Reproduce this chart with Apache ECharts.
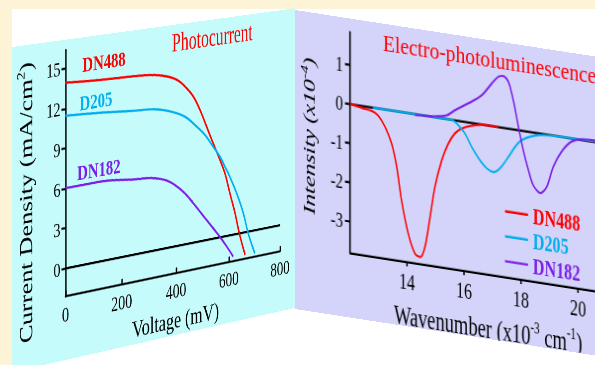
<!DOCTYPE html>
<html><head><meta charset="utf-8">
<script src="https://cdn.jsdelivr.net/npm/echarts@6/dist/echarts.min.js"></script>
<style>
html,body{margin:0;padding:0;width:595px;height:365px;overflow:hidden;background:#fdf3d7;}
#paper{position:absolute;left:12px;top:9px;width:583px;height:356px;background:#ffffff;}
#left,#right{position:absolute;left:0;top:0;transform-origin:0 0;}
#left{width:298px;height:221px;}
#right{width:330px;height:206px;}
</style></head><body>
<div id="paper"></div>
<div id="left"></div>
<div id="right"></div>
<script>
// ---------- Photocurrent (J-V) data ----------
const pcZeroV = [0, 800];
const pcZeroJ = [0, 0];
const pcV_DN488 = [0, 122, 248, 322, 371, 408, 440, 465, 490, 515, 540, 566, 585, 604, 624, 640, 663];
const pcJ_DN488 = [13.94, 13.76, 13.66, 13.51, 13.22, 12.8, 12.1, 11.37, 10.25, 8.86, 7.47, 6.07, 4.95, 3.31, 1.65, 0.05, -1.8];
const pcV_D205 = [0, 122, 248, 322, 384, 433, 471, 509, 540, 566, 585, 598, 630, 656, 675, 701];
const pcJ_D205 = [11.47, 11.28, 11.01, 10.87, 10.47, 9.92, 9.14, 8.23, 7.2, 6.33, 5.47, 4.9, 3.21, 1.53, -0.14, -1.83];
const pcV_DN182 = [0, 122, 248, 310, 359, 396, 433, 465, 515, 560, 592, 617];
const pcJ_DN182 = [6.02, 6.05, 5.75, 5.62, 5.28, 4.75, 3.97, 3.06, 1.56, 0.21, -0.84, -1.74];
const pcVoltTicks = [0, 200, 400, 600, 800];
const pcCurrTicks = [0, 3, 6, 9, 12, 15];

// ---------- Electro-photoluminescence data ----------
const eplZeroW = [12, 21];
const eplZeroI = [0, 0];
const eplW_DN488 = [12.0, 12.3, 12.5, 12.75, 12.98, 13.23, 13.46, 13.64, 13.81, 14.05, 14.28, 14.46, 14.63, 14.81, 14.98, 15.22, 15.45, 15.68, 15.92, 16.39, 16.85, 17.2];
const eplI_DN488 = [0, -0.03, -0.06, -0.08, -0.17, -0.44, -0.84, -1.42, -2.26, -3.10, -3.57, -3.64, -3.36, -2.57, -1.78, -1.07, -0.62, -0.33, -0.18, -0.04, 0.01, 0.0];
const eplW_D205 = [12.8, 15.57, 15.8, 16.04, 16.27, 16.56, 16.8, 17.03, 17.26, 17.56, 17.79, 18.02, 18.37, 18.72, 19.42, 21.0];
const eplI_D205 = [0, 0, -0.11, -0.30, -0.61, -0.92, -1.10, -1.17, -1.05, -0.72, -0.44, -0.24, -0.10, -0.03, 0.0, 0.03];
const eplW_DN182 = [14.28, 15.0, 15.4, 15.68, 16.15, 16.62, 16.97, 17.2, 17.38, 17.56, 17.73, 17.91, 18.08, 18.26, 18.43, 18.67, 18.9, 19.13, 19.42, 19.77, 20.13, 21.0];
const eplI_DN182 = [-0.02, 0.03, 0.1, 0.26, 0.49, 0.75, 1.09, 1.29, 1.33, 1.2, 0.75, 0.09, -0.49, -0.98, -1.35, -1.52, -1.34, -0.8, -0.38, -0.08, 0.02, 0.05];
const eplWaveTicks = [14, 16, 18, 20];
const eplIntTicks = [-3, -2, -1, 0, 1];

const seriesNames = ['DN488', 'D205', 'DN182'];
const seriesColors = ['#ff0000', '#00aeef', '#7a1fe6'];

// ---------- helpers ----------
const zip = (xs, ys) => xs.map((x, i) => [x, ys[i]]);
const serif = "'Liberation Serif','Times New Roman',serif";

function homography(src, dst) {
  const M = [], v = [];
  for (let i = 0; i < 4; i++) {
    const [x, y] = src[i], [X, Y] = dst[i];
    M.push([x, y, 1, 0, 0, 0, -x * X, -y * X]); v.push(X);
    M.push([0, 0, 0, x, y, 1, -x * Y, -y * Y]); v.push(Y);
  }
  for (let c = 0; c < 8; c++) {
    let p = c;
    for (let r = c + 1; r < 8; r++) if (Math.abs(M[r][c]) > Math.abs(M[p][c])) p = r;
    [M[c], M[p]] = [M[p], M[c]]; [v[c], v[p]] = [v[p], v[c]];
    for (let r = 0; r < 8; r++) {
      if (r === c) continue;
      const f = M[r][c] / M[c][c];
      for (let k = c; k < 8; k++) M[r][k] -= f * M[c][k];
      v[r] -= f * v[c];
    }
  }
  const h = v.map((val, i) => val / M[i][i]);
  return `matrix3d(${h[0]},${h[3]},0,${h[6]},${h[1]},${h[4]},0,${h[7]},0,0,1,0,${h[2]},${h[5]},0,1)`;
}

// ---------- panel placement (perspective of the figure) ----------
const LG = {left: 52.6, top: 7.1, width: 228, height: 170, outerBoundsMode: 'none'};
const leftEl = document.getElementById('left');
leftEl.style.transform = homography(
  [[LG.left, LG.top], [LG.left, LG.top + LG.height], [LG.left + LG.width, LG.top + LG.height], [LG.left + LG.width, LG.top]],
  [[65.5, 50], [65.5, 296.4], [280, 251.5], [280, 20]]
);
const rightEl = document.getElementById('right');
rightEl.style.transform = 'matrix(1,0.155,0,1.45,295,10)';

const axisBlack = {color: '#000', width: 1.5};

// ---------- left chart ----------
const leftChart = echarts.init(leftEl, null, {renderer: 'svg'});
leftChart.setOption({
  animation: false,
  backgroundColor: '#c6fbfb',
  grid: LG,
  xAxis: {
    type: 'value', min: pcVoltTicks[0], max: pcVoltTicks[pcVoltTicks.length - 1], interval: 200,
    axisLine: {onZero: false, lineStyle: axisBlack},
    axisTick: {inside: true, length: 4, lineStyle: axisBlack},
    axisLabel: {color: '#000', fontFamily: serif, fontSize: 14.5, margin: 5},
    splitLine: {show: false},
    name: 'Voltage (mV)', nameLocation: 'middle', nameGap: 21,
    nameTextStyle: {color: '#000', fontFamily: serif, fontSize: 17}
  },
  yAxis: {
    type: 'value', min: -2.1, max: 16.4,
    axisLine: {show: true, onZero: false, lineStyle: axisBlack},
    axisTick: {show: true, length: 4, customValues: pcCurrTicks, lineStyle: axisBlack},
    axisLabel: {customValues: pcCurrTicks, color: '#000', fontFamily: serif, fontSize: 14, margin: 5},
    splitLine: {show: false},
    name: 'Current Density (mA/cm{s|2})', nameLocation: 'middle', nameGap: 24,
    nameTextStyle: {
      color: '#000', fontFamily: serif, fontSize: 18, padding: [0, 31, 0, 0],
      rich: {s: {fontSize: 11, fontFamily: serif, color: '#000', padding: [0, 0, 10, 0]}}
    }
  },
  graphic: [
    {type: 'text', x: 206, y: 12.4, scaleY: 1.1, style: {text: 'Photocurrent', fill: '#ff0000', fontFamily: serif, fontSize: 17, align: 'center', verticalAlign: 'middle'}},
    {type: 'text', x: 91.6, y: 18.9, style: {text: seriesNames[0], fill: seriesColors[0], fontFamily: serif, fontWeight: 'bold', fontSize: 15, align: 'center', verticalAlign: 'middle'}},
    {type: 'text', x: 83.3, y: 45.6, style: {text: seriesNames[1], fill: seriesColors[1], fontFamily: serif, fontWeight: 'bold', fontSize: 15, align: 'center', verticalAlign: 'middle'}},
    {type: 'text', x: 86.3, y: 93.2, style: {text: seriesNames[2], fill: seriesColors[2], fontFamily: serif, fontWeight: 'bold', fontSize: 15, align: 'center', verticalAlign: 'middle'}}
  ],
  series: [
    {type: 'line', name: 'zero', data: zip(pcZeroV, pcZeroJ), symbol: 'none', lineStyle: {color: '#000', width: 1.6}, silent: true},
    {type: 'line', name: seriesNames[0], data: zip(pcV_DN488, pcJ_DN488), symbol: 'none', smooth: 0.4, lineStyle: {color: seriesColors[0], width: 1.6}},
    {type: 'line', name: seriesNames[1], data: zip(pcV_D205, pcJ_D205), symbol: 'none', smooth: 0.4, lineStyle: {color: seriesColors[1], width: 1.6}},
    {type: 'line', name: seriesNames[2], data: zip(pcV_DN182, pcJ_DN182), symbol: 'none', smooth: 0.4, lineStyle: {color: seriesColors[2], width: 1.6}}
  ]
});

// ---------- right chart ----------
const rightChart = echarts.init(rightEl, null, {renderer: 'svg'});
rightChart.setOption({
  animation: false,
  backgroundColor: '#d4d4fa',
  grid: {left: 55, top: 9.3, width: 256.5, height: 152.1, outerBoundsMode: 'none'},
  legend: {
    orient: 'vertical', left: 210, top: 108.4, padding: 0,
    icon: 'rect', itemWidth: 23, itemHeight: 1.6, itemGap: 1.2,
    textStyle: {fontFamily: serif, fontWeight: 'bold', fontSize: 16, lineHeight: 16},
    data: seriesNames.map((n, i) => ({name: n, textStyle: {color: seriesColors[i]}}))
  },
  xAxis: {
    type: 'value', min: 12, max: 21,
    axisLine: {onZero: false, lineStyle: axisBlack},
    axisTick: {customValues: eplWaveTicks, length: 3.5, lineStyle: axisBlack},
    axisLabel: {customValues: eplWaveTicks, color: '#000', fontFamily: serif, fontSize: 16, margin: 6},
    splitLine: {show: false},
    name: 'Wavenumber (x10{s|-3} cm{s|-1})', nameLocation: 'middle', nameGap: 22,
    nameTextStyle: {
      color: '#000', fontFamily: serif, fontSize: 18.5, padding: [0, 0, 0, 19.5],
      rich: {s: {fontSize: 11, fontFamily: serif, color: '#000', padding: [0, 0, 10, 0]}}
    }
  },
  yAxis: {
    type: 'value', min: -3.8, max: 1.85,
    axisLine: {show: true, onZero: false, lineStyle: axisBlack},
    axisTick: {show: true, customValues: eplIntTicks, length: 5, lineStyle: axisBlack},
    axisLabel: {customValues: eplIntTicks, color: '#000', fontFamily: serif, fontSize: 15, margin: 7},
    splitLine: {show: false},
    name: 'Intensity (x10{s|-4})', nameLocation: 'middle', nameGap: 30,
    nameTextStyle: {
      color: '#000', fontFamily: serif, fontStyle: 'italic', fontSize: 17,
      rich: {s: {fontSize: 11, fontFamily: serif, fontStyle: 'italic', color: '#000', padding: [0, 0, 10, 0]}}
    }
  },
  graphic: [
    {type: 'text', x: 88, y: 13.4, scaleY: 0.82, style: {text: 'Electro-photoluminescence', fill: '#ff0000', fontFamily: serif, fontSize: 19.5, align: 'left', verticalAlign: 'middle'}}
  ],
  series: [
    {type: 'line', name: 'zero', data: zip(eplZeroW, eplZeroI), symbol: 'none', lineStyle: {color: '#000', width: 1.5}, silent: true},
    {type: 'line', name: seriesNames[0], data: zip(eplW_DN488, eplI_DN488), symbol: 'none', smooth: 0.3, color: seriesColors[0], lineStyle: {color: seriesColors[0], width: 1.5}},
    {type: 'line', name: seriesNames[1], data: zip(eplW_D205, eplI_D205), symbol: 'none', smooth: 0.3, color: seriesColors[1], lineStyle: {color: seriesColors[1], width: 1.5}},
    {type: 'line', name: seriesNames[2], data: zip(eplW_DN182, eplI_DN182), symbol: 'none', smooth: 0.3, color: seriesColors[2], lineStyle: {color: seriesColors[2], width: 1.5}}
  ]
});
</script>
</body></html>
